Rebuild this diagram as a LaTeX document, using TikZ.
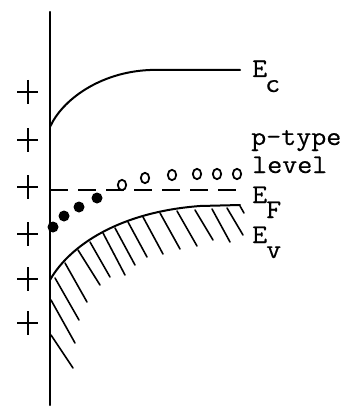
\documentclass[tikz,border=0pt]{standalone}
\usepackage{fontspec}
\setmonofont[FakeBold=0.5,FakeStretch=1.08]{Latin Modern Mono}
\usepackage{tikz}
\usetikzlibrary{positioning}

\begin{document}
\begin{tikzpicture}[x=1pt,y=-1pt,line cap=round,
  lbl/.style={anchor=base west,inner sep=0pt,font=\ttfamily\fontsize{27}{30}\selectfont},
  hatch/.style={line width=1.6pt},
  band/.style={line width=2pt}]
\useasboundingbox (0,0) rectangle (360,409);
% surface
\draw[line width=2.4pt] (50,12)--(50,405);
\foreach \y in {92,140,187,234,279,323}
  \draw[line width=2.6pt,line cap=butt] (17,\y)--(38,\y) (28,\y-12)--(28,\y+12);
% bands
\draw[band] (50,127) .. controls (62,100) and (100,72) .. (150,70) -- (240,70);
\draw[band] (50,280) .. controls (70,245) and (120,212) .. (200,206) -- (240,205);
\draw[band,dash pattern=on 18pt off 10pt,line cap=butt] (50,190)--(240,190);
\foreach \xa/\ya/\xb/\yb in {240/206/244/213,227/208/243/235,212/209/230/242,195/210/213/240,
  177/211/197/246,160/213/180/249,143/217/163/254,128/222/147/257,115/228/135/265,
  103/233/125/275,90/242/110/277,78/250/100/285,65/263/87/302,55/278/79/320,
  51/300/75/343,51/335/73/368}
  \draw[hatch] (\xa,\ya)--(\xb,\yb);
% holes and electrons
\foreach \x/\y in {53/227,64/216,79/207,97/198}
  \fill (\x,\y) circle[radius=5.5];
\foreach \x/\y in {122/185,145/178,172/175,197/174,217/174,237/174}
  \draw[line width=1.8pt] (\x,\y) ellipse[x radius=4.2,y radius=5.2];
% labels
\node[lbl] (ec) at (252,77) {E};
\node[lbl] (ecs) at (265,92) {c};
\node[lbl] (pt) at (251,145) {p-type};
\node[lbl] (lv) at (252,173) {level};
\node[lbl] (ef) at (252,203) {E};
\node[lbl] (efs) at (266,218) {F};
\node[lbl] (ev) at (252,243) {E};
\node[lbl] (evs) at (266,258) {v};
\end{tikzpicture}
\end{document}
